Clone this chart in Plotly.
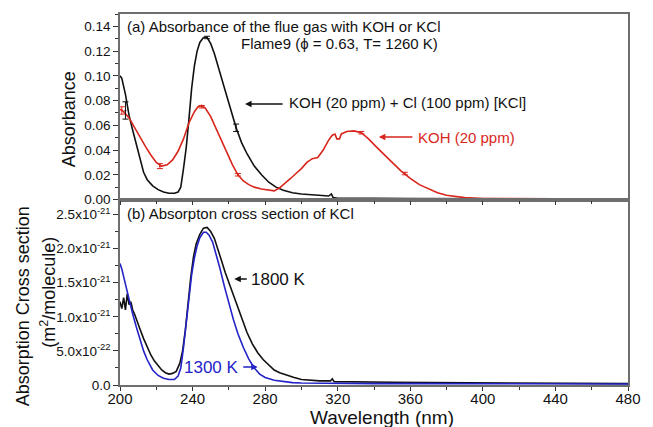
import plotly.graph_objects as go

# ---------------- data ----------------
# (a) Absorbance, KOH (20 ppm) + Cl (100 ppm) [KCl]  (black)
wl_kcl = [200, 201, 203, 205, 207, 209, 211, 213, 215, 218, 221, 224, 227, 230, 232, 233.5, 235, 236.5,
          238, 239.5, 241, 242.5, 244, 246, 248, 250, 252, 255, 258, 261, 264, 267, 270, 274, 278, 282,
          286, 290, 295, 300, 305, 310, 315, 316.5, 317.5, 320, 330, 340, 360, 380, 400, 420, 440, 460, 480]
abs_kcl = [0.100, 0.098, 0.085, 0.068, 0.056, 0.044, 0.032, 0.022, 0.016, 0.011, 0.008, 0.006, 0.005, 0.005,
           0.006, 0.010, 0.025, 0.042, 0.065, 0.090, 0.108, 0.120, 0.127, 0.131, 0.131, 0.126, 0.118, 0.104,
           0.088, 0.073, 0.058, 0.046, 0.037, 0.027, 0.020, 0.014, 0.010, 0.0075, 0.0055, 0.0045, 0.0038,
           0.0032, 0.0028, 0.0045, 0.0015, 0.0010, 0.0012, 0.0010, 0.0008, 0.0008, 0.0007, 0.0006, 0.0006,
           0.0006, 0.0005]

# (a) Absorbance, KOH (20 ppm)  (red)
wl_koh = [200, 202, 205, 208, 211, 214, 217, 220, 223, 226, 229, 232, 235, 238, 241, 243, 245, 247, 250, 253,
          256, 259, 262, 265, 268, 271, 274, 278, 282, 285, 288, 291, 294, 297, 300, 303, 306, 309, 312, 315,
          317, 318.5, 319.5, 321, 322, 325, 329, 333, 337, 341, 345, 350, 355, 360, 365, 370, 375, 380, 385,
          390, 400, 420, 440, 480]
abs_koh = [0.073, 0.071, 0.066, 0.058, 0.050, 0.043, 0.036, 0.030, 0.027, 0.028, 0.032, 0.039, 0.049, 0.062,
           0.071, 0.075, 0.076, 0.074, 0.067, 0.057, 0.047, 0.037, 0.028, 0.020, 0.015, 0.012, 0.010, 0.0085,
           0.0075, 0.0070, 0.0095, 0.013, 0.017, 0.021, 0.025, 0.030, 0.033, 0.034, 0.040, 0.048, 0.052,
           0.053, 0.049, 0.049, 0.053, 0.055, 0.0555, 0.054, 0.049, 0.043, 0.037, 0.030, 0.023, 0.017, 0.012,
           0.0085, 0.0055, 0.0035, 0.0022, 0.0015, 0.0008, 0.0005, 0.0005, 0.0005]

# error bars (a)
err_kcl_wl = [203, 248, 264]
err_kcl_v = [0.072, 0.131, 0.058]
err_kcl_e = [0.007, 0.001, 0.003]
err_koh_wl = [201, 222, 245, 265, 333, 357]
err_koh_v = [0.072, 0.027, 0.075, 0.020, 0.054, 0.021]
err_koh_e = [0.003, 0.002, 0.001, 0.001, 0.001, 0.001]

# (b) Absorption cross section of KCl, in units of 1e-21 m^2/molecule
wl_1800 = [200, 201, 202, 203, 204, 205, 206, 207, 208, 209, 211, 213, 215, 217, 219, 221, 223, 225, 227, 229,
           231, 233, 234.5, 236, 237.5, 239, 240.5, 242, 244, 246, 248, 250, 252, 254, 256, 258, 261, 264,
           267, 270, 273, 276, 279, 282, 285, 288, 292, 296, 300, 305, 310, 316, 317, 318, 330, 350, 370,
           400, 440, 480]
cs_1800 = [1.22, 1.12, 1.28, 1.10, 1.34, 1.18, 1.22, 1.10, 1.04, 0.96, 0.82, 0.68, 0.55, 0.44, 0.35, 0.28,
           0.22, 0.18, 0.16, 0.17, 0.20, 0.32, 0.50, 0.80, 1.20, 1.58, 1.88, 2.07, 2.21, 2.30, 2.31, 2.25,
           2.15, 2.00, 1.82, 1.65, 1.43, 1.22, 0.97, 0.77, 0.60, 0.47, 0.37, 0.29, 0.22, 0.18, 0.14, 0.11,
           0.08, 0.065, 0.06, 0.06, 0.09, 0.05, 0.05, 0.04, 0.035, 0.03, 0.025, 0.02]

wl_1300 = [200, 201, 203, 205, 207, 209, 211, 213, 215, 218, 221, 224, 227, 230, 232, 233.5, 235, 236.5, 238,
           239.5, 241, 242.5, 244, 246, 247.5, 249, 251, 253, 255, 257.5, 260, 262.5, 265, 268, 271, 274,
           277, 280, 285, 290, 295, 300, 310, 320, 340, 360, 380, 400, 440, 480]
cs_1300 = [1.78, 1.70, 1.48, 1.25, 1.04, 0.85, 0.66, 0.50, 0.37, 0.22, 0.14, 0.10, 0.08, 0.08, 0.13, 0.25,
           0.55, 0.90, 1.28, 1.62, 1.86, 2.04, 2.16, 2.24, 2.24, 2.20, 2.10, 1.92, 1.72, 1.45, 1.20, 0.96,
           0.75, 0.55, 0.38, 0.25, 0.16, 0.11, 0.07, 0.05, 0.035, 0.03, 0.025, 0.02, 0.02, 0.02, 0.02, 0.02,
           0.015, 0.015]

x_ticks = [200, 240, 280, 320, 360, 400, 440, 480]
y1_ticks = [0.00, 0.02, 0.04, 0.06, 0.08, 0.10, 0.12, 0.14]
y2_ticks = [0.0, 0.5, 1.0, 1.5, 2.0, 2.5]
y2_ticktext = ["0.0", "5.0x10<sup>-22</sup>", "1.0x10<sup>-21</sup>", "1.5x10<sup>-21</sup>",
               "2.0x10<sup>-21</sup>", "2.5x10<sup>-21</sup>"]

# ---------------- style ----------------
BLACK = "#111111"
RED = "#d9261c"
BLUE = "#2323c8"
FONT = "Arial, Liberation Sans, sans-serif"

fig = go.Figure()

fig.add_trace(go.Scatter(x=wl_kcl, y=abs_kcl, mode="lines", line=dict(color=BLACK, width=1.6),
                         xaxis="x", yaxis="y", showlegend=False))
fig.add_trace(go.Scatter(x=wl_koh, y=abs_koh, mode="lines", line=dict(color=RED, width=1.6),
                         xaxis="x", yaxis="y", showlegend=False))
fig.add_trace(go.Scatter(x=err_kcl_wl, y=err_kcl_v, mode="markers", marker=dict(size=2, color=BLACK),
                         error_y=dict(type="data", array=err_kcl_e, color=BLACK, thickness=1, width=3),
                         xaxis="x", yaxis="y", showlegend=False))
fig.add_trace(go.Scatter(x=err_koh_wl, y=err_koh_v, mode="markers", marker=dict(size=2, color=RED),
                         error_y=dict(type="data", array=err_koh_e, color=RED, thickness=1, width=3),
                         xaxis="x", yaxis="y", showlegend=False))

fig.add_trace(go.Scatter(x=wl_1800, y=cs_1800, mode="lines", line=dict(color=BLACK, width=1.6),
                         xaxis="x2", yaxis="y2", showlegend=False))
fig.add_trace(go.Scatter(x=wl_1300, y=cs_1300, mode="lines", line=dict(color=BLUE, width=1.6),
                         xaxis="x2", yaxis="y2", showlegend=False))

axis_common = dict(showline=True, linecolor="#6e6e6e", linewidth=1.5, mirror=True, showgrid=False,
                   zeroline=False, tickcolor="#333333")

fig.update_layout(
    width=653, height=427,
    margin=dict(l=120, r=13, t=14, b=42),
    paper_bgcolor="white", plot_bgcolor="white",
    font=dict(family=FONT, size=13, color="#111111"),
    xaxis=dict(domain=[0, 1], anchor="y", range=[200, 480], tickvals=x_ticks, showticklabels=False,
               ticks="outside", ticklen=4,
               minor=dict(dtick=20, tick0=200, ticks="outside", ticklen=3, tickcolor="#333333"),
               **axis_common),
    yaxis=dict(domain=[0.5, 1], anchor="x", range=[0, 0.15], tickvals=y1_ticks, tickformat=".2f",
               ticks="outside", ticklen=5, tickfont=dict(family=FONT, size=13.5, color="#111111"),
               minor=dict(dtick=0.01, tick0=0, ticks="outside", ticklen=3, tickcolor="#333333"),
               **axis_common),
    xaxis2=dict(domain=[0, 1], anchor="y2", range=[200, 480], tickvals=x_ticks,
                ticks="outside", ticklen=4, ticklabelstandoff=-5,
                tickfont=dict(family=FONT, size=15, color="#111111"),
                minor=dict(dtick=20, tick0=200, ticks="outside", ticklen=3, tickcolor="#333333"),
                **axis_common),
    yaxis2=dict(domain=[0, 0.5], anchor="x2", range=[0, 2.72], tickvals=y2_ticks, ticktext=y2_ticktext,
                ticks="outside", ticklen=5, tickfont=dict(family=FONT, size=13.5, color="#111111"),
                minor=dict(dtick=0.25, tick0=0, ticks="outside", ticklen=3, tickcolor="#333333"),
                **axis_common),
)

def px2paper_x(px):
    return (px - 120) / 520.0

def px2paper_y(py):
    return (385 - py) / 371.0

ann = []
# axis titles
ann.append(dict(text="Absorbance", x=px2paper_x(68), y=px2paper_y(119), textangle=-90,
                font=dict(family=FONT, size=18, color="#111111")))
ann.append(dict(text="Absorption Cross section", x=px2paper_x(21), y=px2paper_y(306), textangle=-90,
                font=dict(family=FONT, size=18, color="#111111")))
ann.append(dict(text="(m<sup>2</sup>/molecule)", x=px2paper_x(46), y=px2paper_y(292), textangle=-90,
                font=dict(family=FONT, size=18, color="#111111")))
ann.append(dict(text="Wavelength (nm)", x=px2paper_x(388), y=px2paper_y(418),
                font=dict(family=FONT, size=19, color="#111111")))
# panel texts
ann.append(dict(text="(a) Absorbance of the flue gas with KOH or KCl", x=px2paper_x(125), y=px2paper_y(26),
                xanchor="left", font=dict(family=FONT, size=15, color="#111111")))
ann.append(dict(text="Flame9 (ϕ = 0.63, T= 1260 K)", x=px2paper_x(448), y=px2paper_y(44),
                xanchor="right", font=dict(family=FONT, size=15, color="#111111")))
ann.append(dict(text="KOH (20 ppm) + Cl (100 ppm) [KCl]", x=px2paper_x(291), y=px2paper_y(103),
                xanchor="left", font=dict(family=FONT, size=15, color="#111111")))
ann.append(dict(text="KOH (20 ppm)", x=px2paper_x(423), y=px2paper_y(137),
                xanchor="left", font=dict(family=FONT, size=15, color=RED)))
ann.append(dict(text="(b) Absorpton cross section of KCl", x=px2paper_x(125), y=px2paper_y(213),
                xanchor="left", font=dict(family=FONT, size=15, color="#111111")))
ann.append(dict(text="1800 K", x=px2paper_x(252), y=px2paper_y(279),
                xanchor="left", font=dict(family=FONT, size=17, color="#111111")))
ann.append(dict(text="1300 K", x=px2paper_x(244), y=px2paper_y(367),
                xanchor="right", font=dict(family=FONT, size=17, color=BLUE)))
for a in ann:
    a.update(xref="paper", yref="paper", showarrow=False)
    a.setdefault("xanchor", "center")
    a.setdefault("yanchor", "middle")

# arrows (tail -> head in pixel positions)
arrows = [((287, 104), (248, 104), BLACK), ((420, 137), (385, 137), RED),
          ((251, 279), (237, 279), BLACK), ((245, 367), (261, 367), BLUE)]
for (tx, ty), (hx, hy), col in arrows:
    ann.append(dict(text="", xref="paper", yref="paper", axref="pixel", ayref="pixel",
                    x=px2paper_x(hx), y=px2paper_y(hy), ax=tx - hx, ay=ty - hy,
                    showarrow=True, arrowhead=2, arrowsize=1, arrowwidth=1.3, arrowcolor=col))

fig.update_layout(annotations=ann)

fig.write_html("out.html")
